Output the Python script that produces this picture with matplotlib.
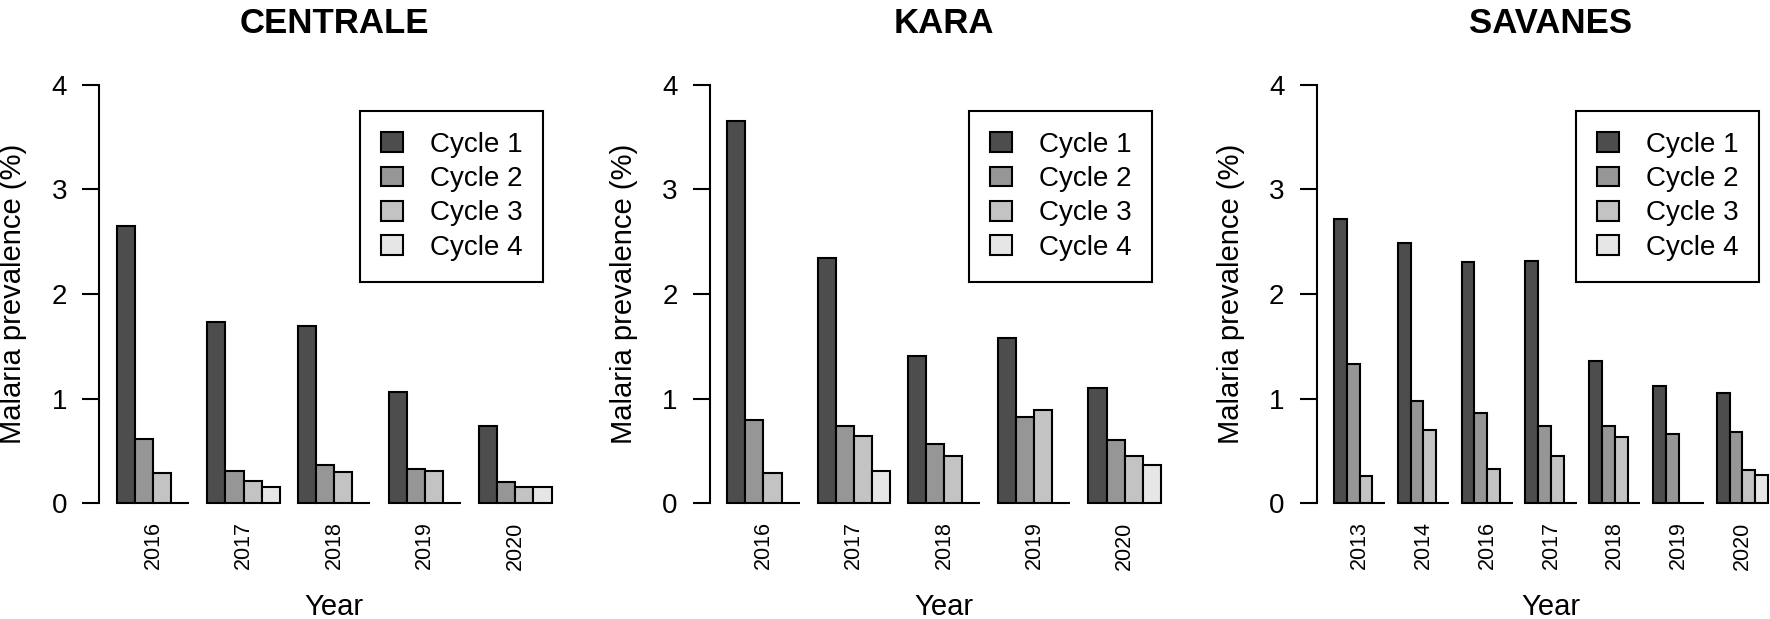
import matplotlib
matplotlib.use("Agg")
import matplotlib.pyplot as plt
import numpy as np

plt.rcParams["font.family"] = ["Liberation Sans", "DejaVu Sans"]

cycles = ["Cycle 1", "Cycle 2", "Cycle 3", "Cycle 4"]
colors = ["#4D4D4D", "#969696", "#C3C3C3", "#E6E6E6"]

# CENTRALE
centrale_years = ["2016", "2017", "2018", "2019", "2020"]
centrale_c1 = [2.65, 1.73, 1.69, 1.06, 0.74]
centrale_c2 = [0.61, 0.31, 0.37, 0.33, 0.20]
centrale_c3 = [0.29, 0.21, 0.30, 0.31, 0.16]
centrale_c4 = [0.0, 0.16, 0.0, 0.0, 0.16]

# KARA
kara_years = ["2016", "2017", "2018", "2019", "2020"]
kara_c1 = [3.65, 2.34, 1.41, 1.58, 1.10]
kara_c2 = [0.80, 0.74, 0.57, 0.82, 0.60]
kara_c3 = [0.29, 0.64, 0.45, 0.89, 0.45]
kara_c4 = [0.0, 0.31, 0.0, 0.0, 0.37]

# SAVANES
savanes_years = ["2013", "2014", "2016", "2017", "2018", "2019", "2020"]
savanes_c1 = [2.72, 2.49, 2.31, 2.32, 1.36, 1.12, 1.05]
savanes_c2 = [1.33, 0.98, 0.86, 0.74, 0.74, 0.66, 0.68]
savanes_c3 = [0.26, 0.70, 0.33, 0.45, 0.63, 0.0, 0.32]
savanes_c4 = [0.0, 0.0, 0.0, 0.0, 0.0, 0.0, 0.27]

W, H = 1770, 619
fig = plt.figure(figsize=(W / 100, H / 100), dpi=100)


def panel(left, right, title, years, series):
    top, bottom = 68, 520
    ax = fig.add_axes([left / W, 1 - bottom / H, (right - left) / W, (bottom - top) / H])
    n = len(years)
    # R barplot(beside=TRUE): groups of 4 bars, one bar-width gap, 4% padding
    for j, vals in enumerate(series):
        x = 1 + np.arange(n) * 5 + j
        ax.bar(x, vals, width=1, align="edge", color=colors[j],
               edgecolor="black", linewidth=1.5, label=cycles[j], clip_on=False)
    span = n * 5 - 1
    ax.set_xlim(1 - 0.04 * span, 1 + span + 0.04 * span)
    ax.set_ylim(-0.16, 4.16)

    for s in ["top", "right", "bottom"]:
        ax.spines[s].set_visible(False)
    ax.spines["left"].set_bounds(0, 4)
    ax.spines["left"].set_linewidth(1.5)

    ax.set_yticks([0, 1, 2, 3, 4])
    ax.tick_params(axis="y", length=12.2, width=1.5, pad=11, labelsize=20)
    ax.set_xticks(1 + np.arange(n) * 5 + 2)
    ax.set_xticklabels(years, rotation=90, fontsize=15.5)
    ax.tick_params(axis="x", length=0, pad=1)

    ax.set_ylabel("Malaria prevalence (%)", fontsize=21)
    ax.yaxis.label.set_va("center")
    ax.yaxis.set_label_coords(-86 / (right - left), 0.5)
    ax.set_xlabel("Year", fontsize=21)
    ax.xaxis.label.set_va("center")
    ax.xaxis.set_label_coords(0.5, (520 - 607) / (bottom - top))

    fig.text((left + right) / 2 / W, 1 - 33 / H, title, fontsize=25,
             fontweight="bold", ha="center", va="baseline")

    leg = ax.legend(loc="upper right", bbox_to_anchor=((right - 26) / W, 1 - 111 / H),
                    bbox_transform=fig.transFigure, borderaxespad=0, fontsize=20,
                    fancybox=False, framealpha=1, edgecolor="black",
                    handlelength=0.8, handleheight=0.72, handletextpad=0.96,
                    labelspacing=0.3, borderpad=0.75)
    leg.get_frame().set_linewidth(1.5)
    return ax


panel(99.3, 569, "CENTRALE", centrale_years,
      [centrale_c1, centrale_c2, centrale_c3, centrale_c4])
panel(710, 1178, "KARA", kara_years,
      [kara_c1, kara_c2, kara_c3, kara_c4])
panel(1316.7, 1785.3, "SAVANES", savanes_years,
      [savanes_c1, savanes_c2, savanes_c3, savanes_c4])

fig.savefig("out.png", dpi=100, facecolor="white")
